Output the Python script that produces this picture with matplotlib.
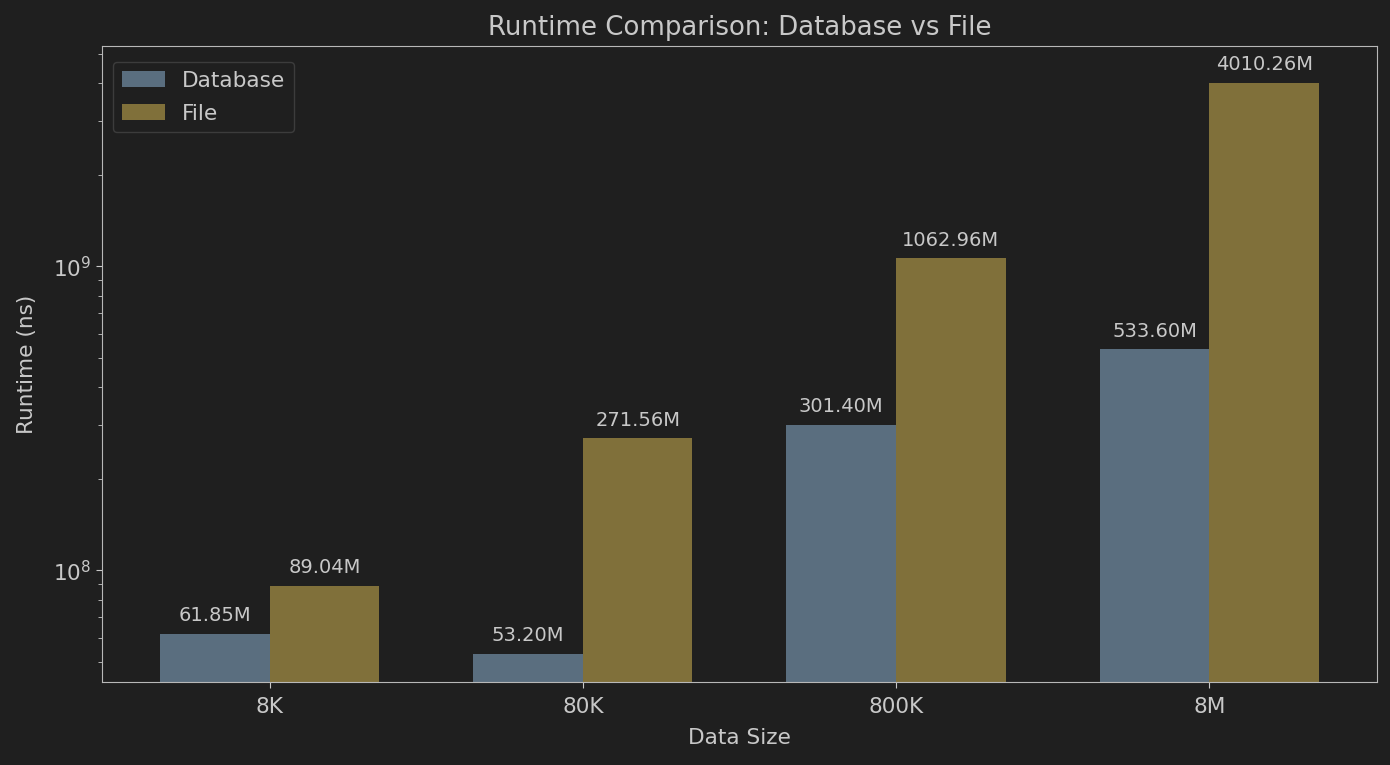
import matplotlib
matplotlib.use('Agg')
import matplotlib.pyplot as plt
import numpy as np

sizes = ['8K', '80K', '800K', '8M']
db_runtime = [61.85e6, 53.20e6, 301.40e6, 533.60e6]
file_runtime = [89.04e6, 271.56e6, 1062.96e6, 4010.26e6]

bg = '#1f1f1f'
fg = '#c8c8c8'
plt.rcParams.update({
    'text.color': fg,
    'axes.labelcolor': fg,
    'xtick.color': fg,
    'ytick.color': fg,
    'axes.edgecolor': '#b8b8b8',
})

fig, ax = plt.subplots(figsize=(13.9, 7.65), dpi=100)
fig.patch.set_facecolor(bg)
ax.set_facecolor(bg)

x = np.arange(len(sizes))
width = 0.35
b1 = ax.bar(x - width / 2, db_runtime, width, label='Database', color='#5a6e7f')
b2 = ax.bar(x + width / 2, file_runtime, width, label='File', color='#80703a')
ax.set_yscale('log')
ax.set_ylim(4.29e7, 5.3e9)

# value labels above each bar
for bars in (b1, b2):
    for bar in bars:
        h = bar.get_height()
        ax.annotate('{:.2f}M'.format(h / 1e6),
                    xy=(bar.get_x() + bar.get_width() / 2, h),
                    xytext=(0, 6), textcoords='offset points',
                    ha='center', va='bottom', fontsize=14, color=fg)

ax.set_xticks(x)
ax.set_xticklabels(sizes)
ax.tick_params(labelsize=15.6, length=4.5)
ax.tick_params(axis='x', pad=6.5)
ax.tick_params(which='minor', length=2.6)
ax.set_xlabel('Data Size', fontsize=15.6, labelpad=8)
ax.set_ylabel('Runtime (ns)', fontsize=15.6, labelpad=11)
ax.set_title('Runtime Comparison: Database vs File', fontsize=18.7, color=fg, pad=8)
leg = ax.legend(loc='upper left', bbox_to_anchor=(0.0086, 0.975), borderaxespad=0,
                fontsize=15.6, labelspacing=0.6, facecolor=bg, edgecolor='#444444')
for t in leg.get_texts():
    t.set_color(fg)

fig.subplots_adjust(left=0.0734, right=0.9906, top=0.9399, bottom=0.1085)
fig.savefig('out.png', facecolor=bg)
